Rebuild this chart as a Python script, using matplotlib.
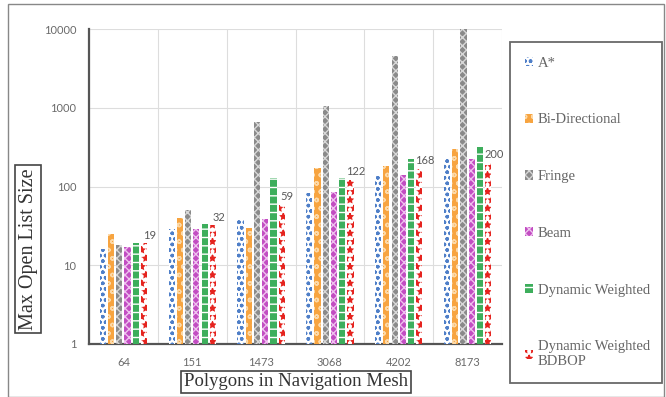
import numpy as np
import matplotlib
matplotlib.use("Agg")
import matplotlib.pyplot as plt
from matplotlib.patches import Rectangle, Patch

categories = ["64", "151", "1473", "3068", "4202", "8173"]
series = ["A*", "Bi-Directional", "Fringe", "Beam", "Dynamic Weighted", "Dynamic Weighted\nBDBOP"]

astar = [16, 29, 39, 82, 137, 232]
bidir = [25, 40, 30, 173, 184, 297]
fringe = [18, 51, 650, 1050, 4540, 9900]
beam = [17, 29, 39, 85, 140, 224]
dyn_weighted = [19, 33, 130, 130, 223, 320]
dwbdbop = [19, 32, 59, 122, 168, 200]

values = [astar, bidir, fringe, beam, dyn_weighted, dwbdbop]

# face colour, hatch colour, hatch pattern for each series
styles = [
    ("white", "#4F7FC8", "ooo"),
    ("#F7A440", "#FCD9A8", "oo"),
    ("#8A8A8A", "#D8D8D8", "xxxx"),
    ("#C24DC2", "#EFC2EF", "xxxx"),
    ("#3DAE5C", "white", "--"),
    ("white", "#E5231E", "**"),
]

plt.rcParams["hatch.linewidth"] = 1.0
W, H = 666, 397
fig = plt.figure(figsize=(W / 100, H / 100), dpi=100)
ax = fig.add_axes([89 / W, 1 - 344 / H, (502 - 89) / W, (344 - 29) / H])

x = np.arange(len(categories))
slot = 0.12
bw = 0.09
for i, (vals, (fc, hc, hatch)) in enumerate(zip(values, styles)):
    ax.bar(x + (i - 2.5) * slot, vals, bw, color=fc, edgecolor=hc,
           hatch=hatch, linewidth=0, zorder=3)

# value labels above the BDBOP bars
for xi, v in zip(x + 2.5 * slot, dwbdbop):
    ax.annotate(str(v), (xi, v), xytext=(4, 2), textcoords="offset points",
                ha="center", va="bottom", fontsize=8, color="#595959",
                family="Lato", zorder=4)

ax.set_yscale("log")
ax.set_ylim(1, 10000)
ax.set_xlim(-0.5, len(categories) - 0.5)
ax.set_yticks([1, 10, 100, 1000, 10000])
ax.set_yticklabels(["1", "10", "100", "1000", "10000"])
ax.yaxis.set_minor_locator(matplotlib.ticker.NullLocator())
ax.set_xticks(x)
ax.set_xticklabels(categories)
ax.set_xticks(np.arange(len(categories) + 1) - 0.5, minor=True)
ax.tick_params(axis="both", which="both", length=0, labelsize=8,
               labelcolor="#6A6A6A")
ax.tick_params(axis="y", pad=9)
ax.tick_params(axis="x", pad=9)
for lab in ax.get_xticklabels() + ax.get_yticklabels():
    lab.set_family("Lato")

ax.grid(True, axis="y", which="major", color="#DDDDDD", lw=0.8, zorder=0)
ax.grid(True, axis="x", which="minor", color="#DDDDDD", lw=0.8, zorder=0)
ax.grid(False, axis="x", which="major")
for s in ["top", "right"]:
    ax.spines[s].set_visible(False)
ax.spines["left"].set_color("#555555")
ax.spines["left"].set_linewidth(1.6)
ax.spines["bottom"].set_color("#555555")
ax.spines["bottom"].set_linewidth(1.6)

box = dict(boxstyle="square,pad=0.15", fc="white", ec="#444444", lw=1.2)
fig.text(296 / W, 1 - 382 / H, "Polygons in Navigation Mesh", ha="center",
         va="center", fontsize=13.5, family="Liberation Serif", color="#333333",
         bbox=box)
fig.text(28 / W, 1 - 249 / H, "Max Open List Size", ha="center", va="center",
         rotation=90, fontsize=14.5, family="Liberation Serif", color="#333333",
         bbox=box)

handles = [Patch(facecolor=fc, edgecolor=hc, hatch=hatch, linewidth=0)
           for fc, hc, hatch in styles]
leg = fig.legend(handles, series, loc="upper left",
                 bbox_to_anchor=(510 / W, 0, 152 / W, 1 - 42 / H),
                 mode="expand", frameon=True, fancybox=False,
                 handlelength=0.6, handleheight=0.6, handletextpad=0.3,
                 labelspacing=3.0, borderpad=1.0, borderaxespad=0,
                 prop={"family": "Liberation Serif", "size": 10.5})
leg.get_frame().set_edgecolor("#444444")
leg.get_frame().set_linewidth(1.3)
for t in leg.get_texts():
    t.set_color("#666666")

# thin outer frame of the chart area
fig.patches.append(Rectangle((8 / W, 0), 1 - 10 / W, 1 - 4 / H,
                             transform=fig.transFigure, fill=False,
                             ec="#888888", lw=1.0))

fig.savefig("out.png", dpi=100)
